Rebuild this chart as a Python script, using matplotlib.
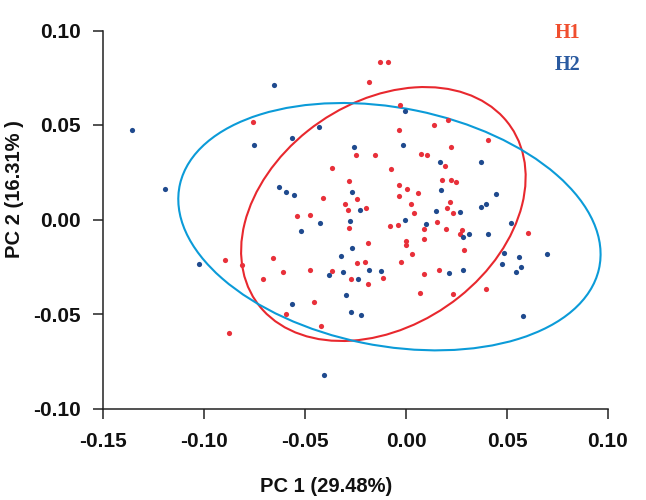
import numpy as np
import matplotlib
matplotlib.use("Agg")
import matplotlib.pyplot as plt
from matplotlib.patches import Ellipse

plt.rcParams['font.family'] = ['Liberation Sans', 'DejaVu Sans']

# ---- data ----
h1_x = [-0.0756, -0.0130, -0.0088, -0.0184, -0.0032, -0.0037, -0.0247, -0.0152, 0.0073, 0.0105,
        -0.0364, -0.0075, -0.0283, -0.0036, 0.0004, 0.0058, -0.0412, -0.0036, -0.0242, -0.0304,
        -0.0288, -0.0200, 0.0026, 0.0039, -0.0539, -0.0474, 0.0140, 0.0209, 0.0408, 0.0222,
        0.0191, 0.0177, 0.0225, 0.0248, 0.0217, 0.0204, 0.0234, 0.0154, 0.0088, 0.0200,
        0.0278, 0.0266, 0.0606, 0.0088, 0.0285, 0.0087, 0.0161, 0.0067, 0.0235, 0.0398,
        -0.0283, -0.0077, -0.0039, 0.0001, 0.0002, -0.0189, 0.0029, -0.0656, -0.0026, -0.0244,
        -0.0204, -0.0610, -0.0476, -0.0364, -0.0709, -0.0270, -0.0187, -0.0116, -0.0454, -0.0592,
        -0.0422, -0.0898, -0.0811, -0.0874]
h1_y = [0.0515, 0.0834, 0.0832, 0.0726, 0.0608, 0.0472, 0.0339, 0.0339, 0.0346, 0.0339,
        0.0270, 0.0266, 0.0203, 0.0185, 0.0160, 0.0138, 0.0116, 0.0123, 0.0110, 0.0081,
        0.0048, 0.0063, 0.0081, 0.0037, 0.0020, 0.0026, 0.0499, 0.0525, 0.0423, 0.0386,
        0.0284, 0.0210, 0.0210, 0.0197, 0.0090, 0.0063, 0.0035, -0.0014, -0.0049, -0.0049,
        -0.0057, -0.0078, -0.0074, -0.0102, -0.0164, -0.0289, -0.0265, -0.0388, -0.0392, -0.0369,
        -0.0046, -0.0037, -0.0030, -0.0116, -0.0134, -0.0123, -0.0185, -0.0206, -0.0224, -0.0228,
        -0.0226, -0.0279, -0.0265, -0.0275, -0.0317, -0.0317, -0.0340, -0.0311, -0.0434, -0.0499,
        -0.0566, -0.0212, -0.0240, -0.0598]

h2_x = [-0.1354, -0.0751, -0.1194, -0.0652, -0.0004, -0.0432, -0.0563, -0.0256, -0.0016, -0.0630,
        -0.0595, -0.0555, -0.0266, -0.0227, 0.0169, 0.0369, 0.0172, 0.0448, 0.0148, 0.0268,
        0.0369, 0.0395, 0.0100, 0.0313, 0.0283, 0.0408, 0.0522, 0.0486, 0.0697, 0.0560,
        0.0474, 0.0570, 0.0545, 0.0212, 0.0280, 0.0578, -0.0428, -0.0522, -0.0275, -0.0006,
        -0.0265, -0.0323, -0.0314, -0.0379, -0.0184, -0.0126, -0.0237, -0.0298, -0.0565, -0.0271,
        -0.0222, -0.0408, -0.1026]
h2_y = [0.0472, 0.0392, 0.0159, 0.0709, 0.0573, 0.0488, 0.0430, 0.0386, 0.0393, 0.0173,
        0.0147, 0.0127, 0.0144, 0.0051, 0.0303, 0.0305, 0.0157, 0.0136, 0.0046, 0.0041,
        0.0067, 0.0083, -0.0023, -0.0076, -0.0094, -0.0078, -0.0017, -0.0176, -0.0180, -0.0199,
        -0.0234, -0.0252, -0.0280, -0.0282, -0.0266, -0.0513, -0.0020, -0.0060, -0.0007, -0.0005,
        -0.0152, -0.0194, -0.0277, -0.0295, -0.0266, -0.0274, -0.0316, -0.0397, -0.0446, -0.0490,
        -0.0504, -0.0824, -0.0237]

# confidence ellipses: center x, center y, width, height, angle (deg)
h1_ellipse = (-0.0112, 0.0029, 0.1567, 0.1155, 40.4)
h2_ellipse = (-0.0082, -0.0038, 0.2122, 0.1257, -12.3)

x_ticks = [-0.15, -0.10, -0.05, 0.00, 0.05, 0.10]
y_ticks = [-0.10, -0.05, 0.00, 0.05, 0.10]
groups = ['H1', 'H2']

fig = plt.figure(figsize=(6.46, 5.0), dpi=100)
ax = fig.add_axes([103/646, 91.5/500, 505/646, 378/500])

ax.scatter(h1_x, h1_y, s=14, color='#e8303a', linewidths=0, zorder=3)
ax.scatter(h2_x, h2_y, s=14, color='#1f4a8e', linewidths=0, zorder=3)

for (cx, cy, w, h, a), col in [(h1_ellipse, '#e8282e'), (h2_ellipse, '#0b9bd8')]:
    ax.add_patch(Ellipse((cx, cy), w, h, angle=a, fill=False, ec=col, lw=1.5, zorder=2))

ax.set_xlim(-0.15, 0.10)
ax.set_ylim(-0.10, 0.10)
ax.set_xticks(x_ticks)
ax.set_yticks(y_ticks)
ax.set_xticklabels([f"{t:.2f}" for t in x_ticks], fontweight='bold')
ax.set_yticklabels([f"{t:.2f}" for t in y_ticks], fontweight='bold')
for s in ['top', 'right']:
    ax.spines[s].set_visible(False)
for s in ['left', 'bottom']:
    ax.spines[s].set_linewidth(1.1)
    ax.spines[s].set_color('#222222')
ax.tick_params(axis='both', length=7, width=1.1, color='#222222', labelsize=15, labelcolor='#111111')
ax.tick_params(axis='x', pad=10)
ax.tick_params(axis='y', pad=9)

ax.set_xlabel('PC 1 (29.48%)', fontsize=14.5, fontweight='bold', color='#111111')
ax.set_ylabel('PC 2 (16.31% )', fontsize=14.5, fontweight='bold', color='#111111')
ax.xaxis.set_label_coords(0.442, -0.182)
ax.yaxis.set_label_coords(-0.156, 0.58)

fig.text(555/646, 1 - 32.5/500, groups[0], color='#f04e2e', fontsize=14.5, fontweight='bold',
         family=['Liberation Serif', 'DejaVu Serif'], va='center', ha='left')
fig.text(555/646, 1 - 64.5/500, groups[1], color='#2a5aa0', fontsize=14.5, fontweight='bold',
         family=['Liberation Serif', 'DejaVu Serif'], va='center', ha='left')

fig.savefig('out.png', dpi=100)
